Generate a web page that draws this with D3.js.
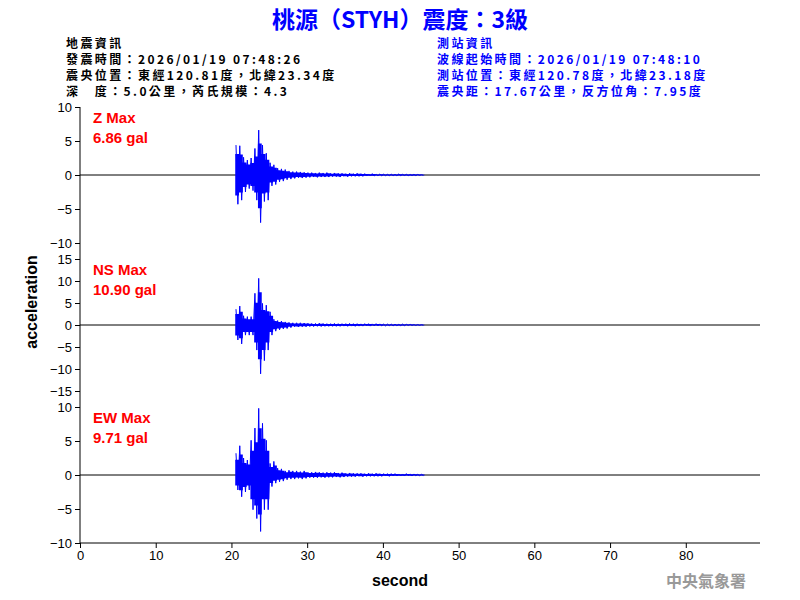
<!DOCTYPE html>
<html><head><meta charset="utf-8">
<script src="https://cdn.jsdelivr.net/npm/d3@7"></script>
<style>body{margin:0;background:#fff}</style>
</head><body>
<script>
// bin start times (s), each bin 0.5 s: max then min
var times = [20.5,21,21.5,22,22.5,23,23.5,24,24.5,25,25.5,26,26.5,27,27.5,28,28.5,29,29.5,30,
  30.5,31,31.5,32,32.5,33,33.5,34,34.5,35,35.5,36,36.5,37,37.5,38,38.5,39,39.5,40,
  40.5,41,41.5,42,42.5,43,43.5,44,44.5,45];
var zMax = [4.4,4.3,2.6,2.2,2.5,3.9,6.6,4.4,3.2,1.8,1.5,1.0,0.9,0.8,0.6,0.5,0.5,0.45,0.4,0.35,
  0.35,0.3,0.35,0.3,0.35,0.25,0.3,0.25,0.25,0.2,0.25,0.2,0.25,0.2,0.2,0.15,0.2,0.12,0.15,0.12,
  0.1,0.12,0.1,0.15,0.1,0.1,0.08,0.1,0.08,0.05];
var zMin = [-4.3,-3.7,-2.5,-2.0,-2.3,-3.7,-7.0,-3.9,-3.7,-1.6,-1.4,-1.0,-0.9,-0.7,-0.6,-0.5,-0.4,-0.45,-0.4,-0.35,
  -0.3,-0.35,-0.3,-0.3,-0.3,-0.25,-0.25,-0.3,-0.2,-0.25,-0.2,-0.2,-0.2,-0.2,-0.15,-0.15,-0.15,-0.12,-0.12,-0.1,
  -0.1,-0.1,-0.1,-0.1,-0.08,-0.1,-0.08,-0.08,-0.06,-0.05];
var nsMax = [3.6,4.3,2.1,1.9,1.9,7.2,10.6,4.9,4.5,3.0,1.3,1.0,0.9,0.7,0.6,0.5,0.5,0.5,0.45,0.4,
  0.35,0.35,0.4,0.35,0.3,0.3,0.35,0.3,0.3,0.3,0.35,0.3,0.3,0.25,0.3,0.3,0.25,0.3,0.25,0.2,
  0.2,0.2,0.2,0.15,0.2,0.15,0.15,0.1,0.1,0.08];
var nsMin = [-3.4,-4.3,-2.3,-2.3,-2.3,-5.7,-11.1,-8.1,-5.7,-2.3,-1.4,-1.1,-0.9,-0.8,-0.6,-0.4,-0.45,-0.4,-0.4,-0.35,
  -0.35,-0.3,-0.35,-0.3,-0.3,-0.3,-0.3,-0.3,-0.25,-0.3,-0.25,-0.3,-0.25,-0.25,-0.2,-0.25,-0.2,-0.2,-0.2,-0.2,
  -0.15,-0.2,-0.15,-0.15,-0.15,-0.1,-0.1,-0.1,-0.08,-0.06];
var ewMax = [3.2,4.3,2.5,2.2,5.1,6.9,9.8,7.6,5.1,1.7,2.0,1.0,0.9,0.6,0.7,0.6,0.6,0.5,0.6,0.4,
  0.4,0.45,0.4,0.35,0.4,0.35,0.4,0.3,0.35,0.25,0.3,0.25,0.25,0.25,0.2,0.25,0.2,0.25,0.2,0.2,
  0.2,0.2,0.2,0.15,0.15,0.2,0.15,0.15,0.1,0.1];
var ewMin = [-2.2,-3.2,-2.5,-2.2,-5.1,-6.4,-8.3,-5.1,-5.1,-1.7,-1.2,-1.0,-0.9,-0.7,-0.6,-0.6,-0.5,-0.6,-0.5,-0.4,
  -0.4,-0.4,-0.35,-0.4,-0.35,-0.35,-0.3,-0.35,-0.3,-0.25,-0.25,-0.25,-0.2,-0.25,-0.2,-0.2,-0.2,-0.2,-0.2,-0.15,
  -0.2,-0.15,-0.15,-0.15,-0.15,-0.1,-0.15,-0.1,-0.1,-0.08];
var channels = [
  {name:"Z Max", peak:"6.86 gal", max:zMax, min:zMin, lim:10, ticks:[-10,-5,0,5,10], top:107, bottom:243},
  {name:"NS Max", peak:"10.90 gal", max:nsMax, min:nsMin, lim:15, ticks:[-15,-10,-5,0,5,10,15], top:259, bottom:391},
  {name:"EW Max", peak:"9.71 gal", max:ewMax, min:ewMin, lim:10, ticks:[-10,-5,0,5,10], top:407, bottom:543}
];
var xTicks = [0,10,20,30,40,50,60,70,80];
var leftInfo = ["地震資訊","發震時間：2026/01/19 07:48:26","震央位置：東經120.81度，北緯23.34度","深　度：5.0公里，芮氏規模：4.3"];
var rightInfo = ["測站資訊","波線起始時間：2026/01/19 07:48:10","測站位置：東經120.78度，北緯23.18度","震央距：17.67公里，反方位角：7.95度"];

var svg = d3.select("body").append("svg").attr("width",800).attr("height",600)
  .style("font-family","Arial, 'Liberation Sans', sans-serif");

svg.append("text").attr("x",400).attr("y",28).attr("text-anchor","middle")
  .attr("fill","#0000ff").attr("font-size",23).attr("font-weight","bold")
  .style("font-family","'Noto Sans CJK TC', sans-serif")
  .text("桃源（STYH）震度：3級");

function info(lines, x, color) {
  svg.selectAll(null).data(lines).enter().append("text")
    .attr("x",x).attr("y",(d,i)=>48+i*16).attr("fill",color)
    .attr("font-size",12).attr("font-weight","bold").attr("letter-spacing",2.4)
    .style("font-family","'Noto Sans CJK TC', sans-serif")
    .text(d=>d);
}
info(leftInfo, 66, "#000");
info(rightInfo, 437, "#0000ff");

var x = d3.scaleLinear().domain([0,89.8]).range([80,760]);

// continuous left axis line
svg.append("line").attr("x1",80).attr("x2",80).attr("y1",107).attr("y2",543)
  .attr("stroke","#000");

channels.forEach(function(c){
  var y = d3.scaleLinear().domain([-c.lim,c.lim]).range([c.bottom,c.top]);
  var ax = svg.append("g").attr("transform","translate(80,0)")
    .call(d3.axisLeft(y).tickValues(c.ticks).tickSize(5).tickFormat(d3.format("d")));
  ax.select(".domain").remove();
  ax.selectAll("text").attr("font-size",13).attr("font-family","Arial").attr("fill","#000");
  ax.selectAll("line").attr("stroke","#000");
  svg.append("line").attr("x1",80).attr("x2",760).attr("y1",y(0)).attr("y2",y(0))
    .attr("stroke","#000");
  // envelope of the trace per bin
  var bins = times.map((t,i)=>({t:t, hi:c.max[i], lo:c.min[i]}));
  bins.push({t:times[times.length-1]+0.5, hi:0, lo:0});
  svg.append("path").datum(bins)
    .attr("d",d3.area().curve(d3.curveStepAfter).x(d=>x(d.t)).y0(d=>y(d.lo*0.7)).y1(d=>y(d.hi*0.7)))
    .attr("fill","#0000ff");
  // trace zigzag through bin extremes
  var pts = [];
  times.forEach(function(t,i){ pts.push([t+0.1,c.max[i]]); pts.push([t+0.35,c.min[i]]); });
  svg.append("path").attr("d",d3.line().x(d=>x(d[0])).y(d=>y(d[1]))(pts))
    .attr("fill","none").attr("stroke","#0000ff").attr("stroke-width",1);
  svg.append("text").attr("x",93).attr("y",c.top+16).attr("fill","#ff0000")
    .attr("font-size",15).attr("font-weight","bold").text(c.name);
  svg.append("text").attr("x",93).attr("y",c.top+36).attr("fill","#ff0000")
    .attr("font-size",15).attr("font-weight","bold").text(c.peak);
});

var xa = svg.append("g").attr("transform","translate(0,543)")
  .call(d3.axisBottom(x).tickValues(xTicks).tickSize(5));
xa.select(".domain").attr("d","M80,0H760").attr("stroke","#000");
xa.selectAll("line").attr("stroke","#000");
xa.selectAll("text").attr("font-size",13).attr("font-family","Arial").attr("fill","#000");

svg.append("text").attr("x",400).attr("y",586).attr("text-anchor","middle")
  .attr("font-size",16).attr("font-weight","bold").text("second");
svg.append("text").attr("transform","translate(37,302) rotate(-90)").attr("text-anchor","middle")
  .attr("font-size",16).attr("font-weight","bold").text("acceleration");
svg.append("text").attr("x",746).attr("y",587).attr("text-anchor","end")
  .attr("fill","#999").attr("font-size",16).attr("font-weight","bold")
  .style("font-family","'Noto Sans CJK TC', serif").text("中央氣象署");
</script>
</body></html>
